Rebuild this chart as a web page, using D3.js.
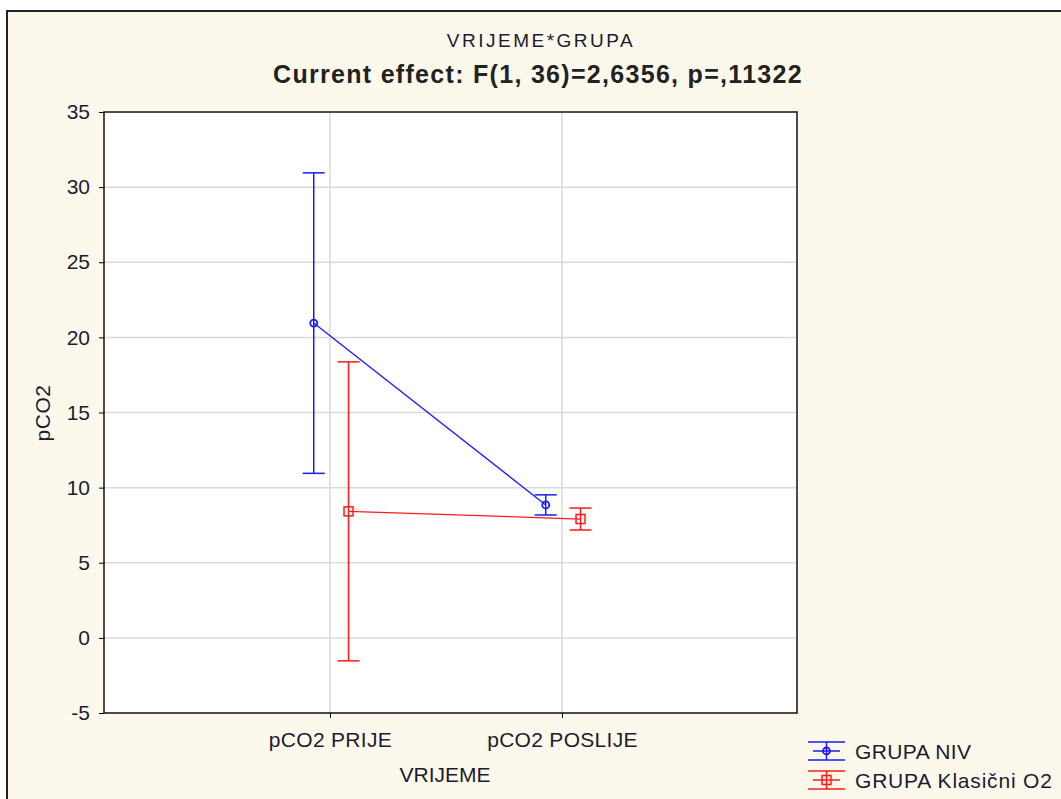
<!DOCTYPE html>
<html>
<head>
<meta charset="UTF-8">
<title>VRIJEME*GRUPA</title>
<script src="https://cdn.jsdelivr.net/npm/d3@7"></script>
<style>
  body { margin: 0; background: #ffffff; }
  svg { display: block; }
</style>
</head>
<body>
<svg width="1061" height="799"></svg>
<script>
// categories on the x axis
const categories = ["pCO2 PRIJE", "pCO2 POSLIJE"];
// groups
const groups = ["GRUPA NIV", "GRUPA Klasični O2"];
// means per group, per category
const meanNIV = [20.95, 8.85];
const meanKlas = [8.42, 7.91];
// half-widths of the confidence intervals
const ciNIV = [10.0, 0.67];
const ciKlas = [9.95, 0.73];
const yTicks = [-5, 0, 5, 10, 15, 20, 25, 30, 35];

const svg = d3.select("svg");
const font = "'Liberation Sans', Arial, sans-serif";
const ink = "#1c1c30";

// frame
svg.append("rect")
  .attr("x", 7).attr("y", 11)
  .attr("width", 1061).attr("height", 799)
  .attr("fill", "#fdf8ec")
  .attr("stroke", "#222").attr("stroke-width", 2);

const plot = { left: 104, right: 797, top: 112, bottom: 713 };

const x = d3.scaleLinear().domain([0.026, 3.013]).range([plot.left, plot.right]);
const y = d3.scaleLinear().domain([-5, 35]).range([plot.bottom, plot.top]);

svg.append("rect")
  .attr("x", plot.left).attr("y", plot.top)
  .attr("width", plot.right - plot.left).attr("height", plot.bottom - plot.top)
  .attr("fill", "#ffffff");

// grid
svg.append("g").selectAll("line").data(yTicks.slice(1, -1)).join("line")
  .attr("x1", plot.left).attr("x2", plot.right)
  .attr("y1", d => y(d)).attr("y2", d => y(d))
  .attr("stroke", "#dadada").attr("stroke-width", 1.5);
svg.append("g").selectAll("line").data(categories).join("line")
  .attr("x1", (d, i) => x(i + 1)).attr("x2", (d, i) => x(i + 1))
  .attr("y1", plot.top).attr("y2", plot.bottom)
  .attr("stroke", "#dadada").attr("stroke-width", 1.5);

// axes
const yAxis = svg.append("g")
  .attr("transform", `translate(${plot.left},0)`)
  .call(d3.axisLeft(y).tickValues(yTicks).tickFormat(d => String(d)).tickSize(5).tickPadding(9));
yAxis.select(".domain").remove();
yAxis.selectAll("text").attr("font-family", font).attr("font-size", 21).attr("fill", ink);

const xAxis = svg.append("g")
  .attr("transform", `translate(0,${plot.bottom})`)
  .call(d3.axisBottom(x).tickValues([1, 2]).tickFormat((d) => categories[d - 1]).tickSize(5).tickPadding(14));
xAxis.select(".domain").remove();
xAxis.selectAll("text").attr("font-family", font).attr("font-size", 21).attr("fill", ink)
  .attr("letter-spacing", 0.3);

svg.append("rect")
  .attr("x", plot.left).attr("y", plot.top)
  .attr("width", plot.right - plot.left).attr("height", plot.bottom - plot.top)
  .attr("fill", "none").attr("stroke", "#111").attr("stroke-width", 1.5);

// titles
svg.append("text").attr("x", 541).attr("y", 47).attr("text-anchor", "middle")
  .attr("font-family", font).attr("font-size", 19).attr("fill", ink)
  .attr("letter-spacing", 2.5)
  .text("VRIJEME*GRUPA");
svg.append("text").attr("x", 538).attr("y", 83).attr("text-anchor", "middle")
  .attr("font-family", font).attr("font-size", 25).attr("font-weight", "bold").attr("fill", "#222")
  .attr("letter-spacing", 1.3)
  .text("Current effect: F(1, 36)=2,6356, p=,11322");
svg.append("text").attr("transform", "translate(50,413) rotate(-90)").attr("text-anchor", "middle")
  .attr("font-family", font).attr("font-size", 21).attr("fill", ink)
  .attr("letter-spacing", 0.5)
  .text("pCO2");
svg.append("text").attr("x", 445).attr("y", 782).attr("text-anchor", "middle")
  .attr("font-family", font).attr("font-size", 21).attr("fill", ink)
  .text("VRIJEME");

// series
const series = [
  { name: groups[0], mean: meanNIV, ci: ciNIV, color: "#1a1aff", shift: -0.07, shape: "circle" },
  { name: groups[1], mean: meanKlas, ci: ciKlas, color: "#ff1a1a", shift: 0.08, shape: "square" }
];

function marker(g, shape, cx, cy, color) {
  if (shape === "circle") {
    g.append("circle").attr("cx", cx).attr("cy", cy).attr("r", 3.5)
      .attr("fill", "none").attr("stroke", color).attr("stroke-width", 1.8);
  } else {
    g.append("rect").attr("x", cx - 4.5).attr("y", cy - 4.5).attr("width", 9).attr("height", 9)
      .attr("fill", "none").attr("stroke", color).attr("stroke-width", 1.5);
  }
}

series.forEach(s => {
  const g = svg.append("g");
  const pts = s.mean.map((m, i) => [x(i + 1 + s.shift), y(m)]);
  g.append("path").attr("d", d3.line()(pts))
    .attr("fill", "none").attr("stroke", s.color).attr("stroke-width", 1.3);
  s.mean.forEach((m, i) => {
    const cx = x(i + 1 + s.shift);
    const hi = y(m + s.ci[i]), lo = y(m - s.ci[i]);
    g.append("line").attr("x1", cx).attr("x2", cx).attr("y1", hi).attr("y2", lo)
      .attr("stroke", s.color).attr("stroke-width", 1.5);
    [hi, lo].forEach(yy => {
      g.append("line").attr("x1", cx - 11).attr("x2", cx + 11).attr("y1", yy).attr("y2", yy)
        .attr("stroke", s.color).attr("stroke-width", 1.5);
    });
    marker(g, s.shape, cx, y(m), s.color);
  });
});

// legend
const legend = svg.append("g").attr("transform", "translate(808,751)");
series.forEach((s, i) => {
  const g = legend.append("g").attr("transform", `translate(0,${i * 29})`);
  [-9, 9].forEach(dy => g.append("line").attr("x1", 0).attr("x2", 37).attr("y1", dy).attr("y2", dy)
    .attr("stroke", s.color).attr("stroke-width", 1.5));
  g.append("line").attr("x1", 18.5).attr("x2", 18.5).attr("y1", -9).attr("y2", 9)
    .attr("stroke", s.color).attr("stroke-width", 1.5);
  g.append("line").attr("x1", 5).attr("x2", 32).attr("y1", 0).attr("y2", 0)
    .attr("stroke", s.color).attr("stroke-width", 1.5);
  marker(g, s.shape, 18.5, 0, s.color);
  g.append("text").attr("x", 47).attr("y", 8)
    .attr("font-family", font).attr("font-size", 21).attr("fill", ink)
    .attr("letter-spacing", i === 0 ? 0.4 : 0.8)
    .text(s.name);
});
</script>
</body>
</html>
